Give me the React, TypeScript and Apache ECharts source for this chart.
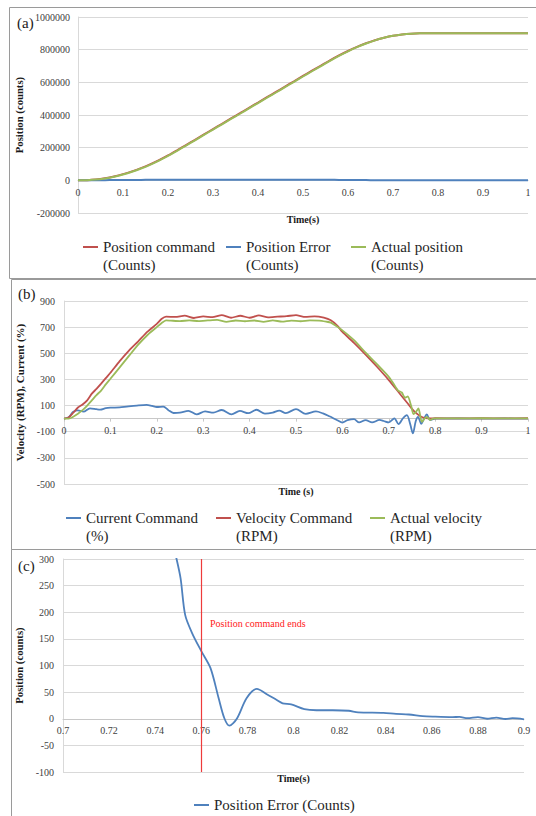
import React, { useEffect, useRef } from "react";
import * as echarts from "echarts";

// ---------- Panel (a): position ----------
const timeA = [0, 0.02, 0.04, 0.06, 0.08, 0.1, 0.12, 0.14, 0.16, 0.18, 0.2, 0.22, 0.24, 0.26, 0.28, 0.3, 0.32, 0.34, 0.36, 0.38, 0.4, 0.42, 0.44, 0.46, 0.48, 0.5, 0.52, 0.54, 0.56, 0.58, 0.6, 0.62, 0.64, 0.66, 0.68, 0.7, 0.72, 0.74, 0.76, 0.78, 0.8, 0.82, 0.84, 0.86, 0.88, 0.9, 0.92, 0.94, 0.96, 0.98, 1];
const posCommand = [0, 1000, 5000, 13000, 24000, 38000, 55000, 75000, 98000, 124000, 153000, 184000, 216000, 248000, 281000, 314000, 346000, 379000, 411000, 444000, 476000, 509000, 541000, 574000, 606000, 639000, 671000, 703000, 735000, 765000, 792000, 817000, 839000, 858000, 873000, 885000, 893000, 898000, 900000, 900000, 900000, 900000, 900000, 900000, 900000, 900000, 900000, 900000, 900000, 900000, 900000];
const posError = [0, 200, 600, 1100, 1600, 2100, 2500, 2800, 3000, 3200, 3300, 3400, 3300, 3300, 3200, 3300, 3300, 3200, 3300, 3300, 3200, 3300, 3300, 3200, 3300, 3300, 3200, 3300, 3100, 2700, 2200, 1700, 1300, 900, 600, 350, 200, 100, 40, 10, 0, 0, 0, 0, 0, 0, 0, 0, 0, 0, 0];
const posActual = [0, 800, 4400, 11900, 22400, 35900, 52500, 72200, 95000, 120800, 149700, 180600, 212700, 244700, 277800, 310700, 342700, 375800, 407700, 440700, 472800, 505700, 537700, 570800, 602700, 635700, 667800, 699700, 731900, 762300, 789800, 815300, 837700, 857100, 872400, 884650, 892800, 897900, 899960, 899990, 900000, 900000, 900000, 900000, 900000, 900000, 900000, 900000, 900000, 900000, 900000];
const namesA = ["Position command\n(Counts)", "Position Error\n(Counts)", "Actual position\n(Counts)"];
const yRangeA = { min: -200000, max: 1000000, interval: 200000 };

// ---------- Panel (b): velocity / current ----------
const tCurrent = [0, 0.01, 0.02, 0.03, 0.042, 0.056, 0.07, 0.078, 0.09, 0.1, 0.12, 0.135, 0.157, 0.178, 0.19, 0.2, 0.214, 0.225, 0.236, 0.25, 0.268, 0.286, 0.304, 0.322, 0.34, 0.361, 0.379, 0.397, 0.415, 0.433, 0.45, 0.464, 0.478, 0.5, 0.521, 0.543, 0.558, 0.572, 0.589, 0.6, 0.611, 0.625, 0.636, 0.65, 0.664, 0.68, 0.689, 0.7, 0.712, 0.721, 0.731, 0.739, 0.746, 0.752, 0.758, 0.763, 0.77, 0.776, 0.782, 0.789, 0.8, 0.85, 0.9, 0.95, 1];
const current = [0, 10, 53, 64, 53, 79, 72, 69, 80, 84, 86, 92, 100, 105, 97, 89, 92, 65, 43, 46, 60, 33, 55, 46, 66, 33, 59, 42, 68, 38, 46, 62, 42, 73, 37, 55, 40, 18, -12, -30, -12, -4, -29, -11, -29, -10, -18, -29, 2, -42, 5, 27, -40, -113, -20, 14, -40, 0, 32, -11, 0, 1, 0, 1, 0];
const tVelCmd = [0, 0.01, 0.02, 0.03, 0.04, 0.05, 0.06, 0.07, 0.08, 0.09, 0.1, 0.12, 0.14, 0.16, 0.18, 0.2, 0.21, 0.22, 0.24, 0.26, 0.28, 0.3, 0.32, 0.34, 0.36, 0.38, 0.4, 0.42, 0.44, 0.46, 0.48, 0.5, 0.52, 0.54, 0.56, 0.575, 0.59, 0.6, 0.625, 0.65, 0.675, 0.7, 0.725, 0.74, 0.755, 0.77, 0.78, 0.79, 0.8, 0.85, 0.9, 0.95, 1];
const velCmd = [0, 8, 45, 85, 108, 140, 191, 228, 268, 310, 351, 440, 521, 592, 665, 725, 762, 780, 778, 788, 770, 782, 776, 792, 772, 787, 772, 790, 775, 780, 784, 792, 778, 782, 772, 752, 708, 663, 580, 490, 395, 295, 185, 120, 55, 14, 4, 2, 3, 2, 3, 2, 3];
const tActVel = [0, 0.01, 0.02, 0.03, 0.04, 0.05, 0.06, 0.07, 0.08, 0.09, 0.1, 0.12, 0.14, 0.16, 0.18, 0.2, 0.21, 0.22, 0.23, 0.25, 0.27, 0.29, 0.31, 0.33, 0.35, 0.37, 0.39, 0.41, 0.43, 0.45, 0.47, 0.49, 0.51, 0.53, 0.55, 0.565, 0.575, 0.585, 0.6, 0.625, 0.65, 0.675, 0.7, 0.71, 0.72, 0.728, 0.735, 0.741, 0.748, 0.753, 0.758, 0.764, 0.771, 0.777, 0.782, 0.789, 0.795, 0.8, 0.85, 0.9, 0.95, 1];
const actVel = [0, 0, 15, 38, 65, 100, 140, 180, 215, 262, 305, 392, 480, 566, 640, 700, 730, 752, 750, 746, 752, 746, 751, 756, 741, 751, 745, 751, 740, 752, 742, 750, 745, 752, 750, 742, 735, 712, 675, 600, 505, 415, 320, 268, 215, 200, 160, 170, 100, 35, 50, 78, -25, 0, 14, -10, 0, 2, 2, 3, 2, 2];
const namesB = ["Current Command\n(%)", "Velocity Command\n(RPM)", "Actual velocity\n(RPM)"];
const yTicksB = [-500, -300, -100, 100, 300, 500, 700, 900];

// ---------- Panel (c): position error zoom ----------
const tErr = [0.745, 0.749, 0.751, 0.753, 0.756, 0.76, 0.764, 0.7675, 0.77, 0.7722, 0.7754, 0.7797, 0.7841, 0.7884, 0.7924, 0.7953, 0.799, 0.8047, 0.81, 0.817, 0.824, 0.828, 0.839, 0.8445, 0.85, 0.856, 0.8604, 0.869, 0.872, 0.8755, 0.88, 0.884, 0.888, 0.892, 0.895, 0.9];
const errC = [380, 305, 264, 195, 161, 127, 95, 39, 1, -13, 0, 39, 56, 46, 36, 29, 27, 18, 16, 16, 15, 12, 11, 9, 8, 5, 4, 3, 3.5, 1, 3, 0, 2, -0.5, 1, -1];
const yRangeC = { min: -100, max: 300, interval: 50 };
const commandEnd = [0.76];
const nameC = "Position Error (Counts)";
const annotationC = "Position command ends";

const RED = "#c0504d";
const BLUE = "#4f81bd";
const GREEN = "#9bbb59";
const GRID = "#d9d9d9";
const AXIS = "#c8c8c8";
const LABEL = "#404040";
const FONT = '"Liberation Serif", "Times New Roman", serif';

// grid boxes (pixels)
const gridA = { left: 78, top: 17, width: 450, height: 196 };
const gridB = { left: 64, top: 301, width: 464, height: 183 };
const gridC = { left: 63, top: 559, width: 461, height: 213 };

const pairs = (xs: number[], ys: number[]) => xs.map((x, i) => [x, ys[i]]);
const fmt = (v: number) => String(+v.toFixed(2));
// lift the time axis from the grid bottom up to the y = 0 line
const zeroOffset = (h: number, min: number, max: number) => -h * (0 - min) / (max - min);

const legendItem = (name: string, left: number, top: number, twoLine: boolean) => ({
  left,
  top,
  padding: 0,
  itemWidth: 15,
  itemHeight: 2,
  icon: "rect",
  selectedMode: false,
  data: [{ name }],
  formatter: (n: string) => (twoLine ? "\n" + n : n),
  textStyle: {
    fontFamily: FONT,
    fontSize: 15,
    lineHeight: 18,
    color: "#262626",
  },
});

const xAxisBase = (gridIndex: number, min: number, max: number, interval: number, name: string, nameGap: number, ticks: boolean, offset: number) => ({
  type: "value",
  gridIndex,
  position: "bottom",
  offset,
  min,
  max,
  interval,
  name,
  nameLocation: "middle",
  nameGap,
  nameTextStyle: { fontFamily: FONT, fontSize: 10, fontWeight: "bold", color: "#1a1a1a" },
  splitLine: { show: false },
  axisLine: { show: true, onZero: false, lineStyle: { color: AXIS, width: 1 } },
  axisTick: { show: ticks, length: 3, lineStyle: { color: AXIS } },
  axisLabel: { fontFamily: FONT, fontSize: 10, color: LABEL, margin: 7, formatter: fmt },
});

const yAxisBase = (gridIndex: number, name: string, nameGap: number, nameSize: number) => ({
  type: "value",
  gridIndex,
  name,
  nameLocation: "middle",
  nameGap,
  nameTextStyle: { fontFamily: FONT, fontSize: nameSize, fontWeight: "bold", color: "#1a1a1a" },
  splitLine: { show: true, lineStyle: { color: GRID, width: 1 } },
  axisLine: { show: true, onZero: false, lineStyle: { color: GRID, width: 1 } },
  axisTick: { show: false },
});

const lineSeries = (name: string, data: number[][], color: string, axis: number, smooth: number, width = 2) => ({
  type: "line",
  name,
  xAxisIndex: axis,
  yAxisIndex: axis,
  data,
  color,
  symbol: "none",
  showSymbol: false,
  smooth,
  lineStyle: { color, width },
  itemStyle: { color },
});

export default function App() {
  const ref = useRef<HTMLDivElement>(null);
  useEffect(() => {
    if (!ref.current) return;
    const chart = echarts.init(ref.current, null, { renderer: "svg" });
    const yMinB = yTicksB[0];
    const yMaxB = yTicksB[yTicksB.length - 1];
    const option: any = {
      animation: false,
      backgroundColor: "#ffffff",
      textStyle: { fontFamily: FONT },
      grid: [gridA, gridB, gridC],
      xAxis: [
        xAxisBase(0, 0, 1, 0.1, "Time(s)", 34, false, zeroOffset(gridA.height, yRangeA.min, yRangeA.max)),
        xAxisBase(1, 0, 1, 0.1, "Time (s)", 68, true, zeroOffset(gridB.height, yMinB, yMaxB)),
        xAxisBase(2, 0.7, 0.9, 0.02, "Time(s)", 55, false, zeroOffset(gridC.height, yRangeC.min, yRangeC.max)),
      ],
      yAxis: [
        {
          ...yAxisBase(0, "Position (counts)", 47, 10.7),
          min: yRangeA.min,
          max: yRangeA.max,
          interval: yRangeA.interval,
          axisLabel: { fontFamily: FONT, fontSize: 10, color: LABEL, margin: 8, formatter: (v: number) => String(v) },
        },
        {
          ...yAxisBase(1, "Velocity (RPM), Current (%)", 30, 11),
          min: yMinB,
          max: yMaxB,
          axisTick: { show: false, customValues: yTicksB },
          axisLabel: { fontFamily: FONT, fontSize: 10, color: LABEL, margin: 9, customValues: yTicksB, formatter: (v: number) => String(v) },
        },
        {
          ...yAxisBase(2, "Position (counts)", 30, 10.7),
          min: yRangeC.min,
          max: yRangeC.max,
          interval: yRangeC.interval,
          axisLabel: { fontFamily: FONT, fontSize: 10, color: LABEL, margin: 9, formatter: (v: number) => String(v) },
        },
      ],
      legend: [
        legendItem(namesA[0], 83, 220, true),
        legendItem(namesA[1], 226, 220, true),
        legendItem(namesA[2], 351, 220, true),
        legendItem(namesB[0], 66, 491, true),
        legendItem(namesB[1], 216, 491, true),
        legendItem(namesB[2], 370, 491, true),
        legendItem(nameC, 194, 796, false),
      ],
      series: [
        lineSeries(namesA[0], pairs(timeA, posCommand), RED, 0, 0.3),
        lineSeries(namesA[1], pairs(timeA, posError), BLUE, 0, 0.3),
        lineSeries(namesA[2], pairs(timeA, posActual), GREEN, 0, 0.3),
        lineSeries(namesB[0], pairs(tCurrent, current), BLUE, 1, 0.3, 1.8),
        lineSeries(namesB[1], pairs(tVelCmd, velCmd), RED, 1, 0.2, 1.8),
        lineSeries(namesB[2], pairs(tActVel, actVel), GREEN, 1, 0.2, 1.8),
        {
          ...lineSeries(nameC, pairs(tErr, errC), BLUE, 2, 0.3, 1.8),
          clip: true,
          markLine: {
            silent: true,
            symbol: "none",
            label: { show: false },
            lineStyle: { color: "#ee3b3b", width: 1.2, type: "solid" },
            data: commandEnd.map((x) => ({ xAxis: x })),
          },
        },
      ],
      graphic: [
        { type: "rect", shape: { x: 9.5, y: 7.5, width: 540, height: 271 }, style: { fill: "none", stroke: "#9a9a9a", lineWidth: 1 }, silent: true },
        { type: "rect", shape: { x: 11.5, y: 279.5, width: 540, height: 270 }, style: { fill: "none", stroke: "#9a9a9a", lineWidth: 1 }, silent: true },
        { type: "rect", shape: { x: 11.5, y: 549.5, width: 540, height: 280 }, style: { fill: "none", stroke: "#9a9a9a", lineWidth: 1 }, silent: true },
        { type: "text", left: 17, top: 15, style: { text: "(a)", font: `15px ${FONT}`, fill: "#1a1a1a" } },
        { type: "text", left: 18, top: 286, style: { text: "(b)", font: `15px ${FONT}`, fill: "#1a1a1a" } },
        { type: "text", left: 18, top: 558, style: { text: "(c)", font: `15px ${FONT}`, fill: "#1a1a1a" } },
        { type: "text", left: 210, top: 618, style: { text: annotationC, font: `10px ${FONT}`, fill: "#ff2020" } },
      ],
    };
    chart.setOption(option);
    return () => chart.dispose();
  }, []);
  return (
    <div
      ref={ref}
      style={{ position: "absolute", left: 0, top: 0, width: 536, height: 816, background: "#fff" }}
    />
  );
}
